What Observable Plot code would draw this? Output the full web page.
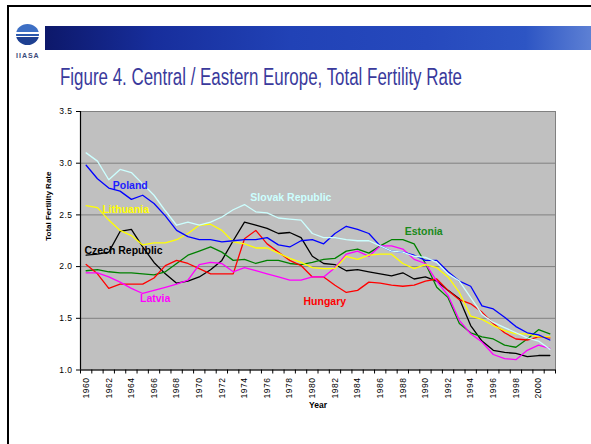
<!DOCTYPE html>
<html>
<head>
<meta charset="utf-8">
<script src="https://cdn.jsdelivr.net/npm/d3@7"></script>
<script src="https://cdn.jsdelivr.net/npm/@observablehq/plot@0.6"></script>
<style>
  html, body { margin: 0; padding: 0; background: #fff; }
  #page { position: relative; width: 591px; height: 444px; overflow: hidden; font-family: "Liberation Sans", Arial, sans-serif; }
  #frame { position: absolute; left: 7px; top: 5px; width: 620px; height: 480px; border-left: 2px solid #000; border-top: 2px solid #000; }
  #banner { position: absolute; left: 45px; top: 26px; width: 546px; height: 24px;
    background: linear-gradient(90deg, #0d186a 0%, #172e9c 20%, #2142b6 45%, #2649bd 70%, #2d55c4 88%, #5d80d4 100%); }
  #logo { position: absolute; left: 16px; top: 24px; width: 23px; height: 21px; border-radius: 50%;
    background: linear-gradient(180deg, #3d6fc4 0 38%, #ffffff 38% 47%, #2a58ad 47% 58%, #ffffff 58% 64%, #1d3f91 64% 100%); }
  #logotext { position: absolute; left: 16px; top: 52px; font-size: 7px; letter-spacing: 1px; color: #3a4a7a; font-weight: bold; }
  #title { position: absolute; left: 60px; top: 66px; font-family: "Liberation Sans", Arial, sans-serif;
    font-size: 23px; line-height: 23px; color: #3a3a9c; white-space: nowrap; transform-origin: 0 0; }
  #chart { position: absolute; left: 0; top: 0; }
  #chart g[aria-label="y-axis tick label"] text, #chart g[aria-label="x-axis tick label"] text { letter-spacing: 0.5px; }
</style>
</head>
<body>
<div id="page">
  <div id="frame"></div>
  <div id="banner"></div>
  <div id="logo"></div>
  <div id="logotext">IIASA</div>
  <div id="chart"></div>
  <div id="title">Figure 4. Central / Eastern Europe, Total Fertility Rate</div>
</div>
<script>
// ---- Data (Total Fertility Rate, 1960–2001) ----
const years = d3.range(1960, 2002);
const xTickYears = d3.range(1960, 2001, 2);
const yTicks = [1.0, 1.5, 2.0, 2.5, 3.0, 3.5];

const countries = ["Czech Republic", "Estonia", "Hungary", "Latvia", "Lithuania", "Poland", "Slovak Republic"];
const colors    = ["#000000", "#008000", "#ff0000", "#ff00ff", "#ffff00", "#0000ff", "#ccffff"];

const czech = [2.11,2.12,2.14,2.34,2.36,2.19,2.04,1.93,1.84,1.86,
               1.90,1.97,2.06,2.25,2.43,2.40,2.37,2.32,2.33,2.28,
               2.10,2.03,2.02,1.96,1.97,1.95,1.93,1.91,1.94,1.88,
               1.90,1.86,1.77,1.69,1.43,1.28,1.19,1.17,1.16,1.13,
               1.14,1.14];
const estonia = [1.96,1.97,1.95,1.94,1.94,1.93,1.92,1.95,2.03,2.11,
                 2.15,2.19,2.14,2.06,2.07,2.03,2.06,2.06,2.03,2.02,
                 2.04,2.07,2.08,2.15,2.17,2.13,2.20,2.26,2.26,2.22,
                 2.03,1.80,1.70,1.45,1.36,1.32,1.30,1.24,1.22,1.30,
                 1.39,1.35];
const hungary = [2.02,1.93,1.79,1.83,1.83,1.83,1.89,2.01,2.06,2.03,
                 1.98,1.93,1.93,1.93,2.27,2.35,2.22,2.14,2.06,2.01,
                 1.90,1.90,1.82,1.75,1.77,1.85,1.84,1.82,1.81,1.82,
                 1.86,1.88,1.77,1.68,1.64,1.56,1.45,1.36,1.30,1.29,
                 1.32,1.31];
const latvia = [1.94,1.94,1.90,1.85,1.79,1.74,1.77,1.80,1.83,1.87,
                2.02,2.04,2.03,1.95,1.99,1.96,1.93,1.90,1.87,1.87,
                1.90,1.90,1.99,2.12,2.15,2.10,2.20,2.20,2.17,2.07,
                2.03,1.86,1.72,1.48,1.35,1.27,1.15,1.11,1.10,1.19,
                1.24,1.21];
const lithuania = [2.59,2.57,2.45,2.35,2.30,2.21,2.23,2.23,2.26,2.32,
                   2.40,2.41,2.35,2.24,2.22,2.18,2.18,2.13,2.08,2.04,
                   1.99,1.98,1.98,2.10,2.07,2.11,2.12,2.12,2.03,1.98,
                   2.02,1.99,1.90,1.75,1.52,1.49,1.43,1.38,1.35,1.35,
                   1.32,1.32];
const poland = [2.98,2.85,2.76,2.73,2.65,2.69,2.61,2.49,2.35,2.29,
                2.26,2.26,2.24,2.25,2.26,2.26,2.28,2.21,2.19,2.25,
                2.26,2.22,2.32,2.39,2.36,2.32,2.20,2.15,2.14,2.11,
                2.06,2.06,1.95,1.86,1.81,1.62,1.59,1.51,1.42,1.36,
                1.34,1.29];
const slovak = [3.10,3.02,2.84,2.94,2.91,2.80,2.69,2.54,2.40,2.43,
                2.40,2.43,2.48,2.55,2.60,2.53,2.52,2.47,2.46,2.45,
                2.32,2.28,2.28,2.26,2.25,2.25,2.20,2.15,2.14,2.10,
                2.09,2.04,1.93,1.86,1.70,1.54,1.46,1.41,1.36,1.31,
                1.28,1.20];

// Series-name annotations (anchor in data units)
const labelNames  = ["Poland", "Lithuania", "Czech Republic", "Slovak Republic", "Estonia", "Hungary", "Latvia"];
const labelYears  = [1963.9, 1963.5, 1963.3, 1978.1, 1989.85, 1981.1, 1966.1];
const labelValues = [2.78, 2.55, 2.15, 2.67, 2.34, 1.66, 1.69];
const labelColors = ["#2020ff", "#ffff00", "#000000", "#ccffff", "#1a8a1a", "#ff0000", "#ff00ff"];

// ---- Build tidy tables ----
const seriesValues = [czech, estonia, hungary, latvia, lithuania, poland, slovak];
const rows = countries.flatMap((c, k) => years.map((yr, i) => ({country: c, year: yr, value: seriesValues[k][i]})));
const labels = labelNames.map((n, i) => ({name: n, x: labelYears[i], y: labelValues[i], color: labelColors[i]}));

const chart = Plot.plot({
  width: 591,
  height: 420,
  marginTop: 111,
  marginLeft: 80,
  marginRight: 36,
  marginBottom: 50.5,
  x: {domain: [1959.5, 2001.5]},
  y: {domain: [1, 3.5]},
  color: {domain: countries, range: colors},
  style: {background: "transparent", fontFamily: "'Liberation Sans', Arial, sans-serif", color: "#000", overflow: "visible"},
  marks: [
    Plot.frame({fill: "#c0c0c0", stroke: "#808080"}),
    Plot.ruleY(yTicks.slice(1), {stroke: "#808080", strokeWidth: 1}),
    Plot.line(rows, {x: "year", y: "value", z: "country", stroke: "country", strokeWidth: 1.3}),
    Plot.ruleX([1959.5], {stroke: "#000", strokeWidth: 1.2}),
    Plot.ruleY([1], {stroke: "#000", strokeWidth: 1.2}),
    Plot.axisY({ticks: yTicks, tickFormat: d3.format(".1f"), tickSize: 4, tickPadding: 4, fontSize: 8.5, label: null}),
    Plot.axisX({ticks: d3.range(1959.5, 2002, 1), tickSize: 4, tickFormat: () => "", label: null}),
    Plot.axisX({ticks: xTickYears, tickFormat: d => String(d), tickSize: 0, tickPadding: 7.5, tickRotate: -90, fontSize: 8.5, label: null}),
    Plot.text(labels, {x: "x", y: "y", text: "name", fill: "color", fontWeight: "bold", fontSize: 10.5}),
    Plot.text(["Year"], {frameAnchor: "bottom", dy: 37.5, text: d => d, fontWeight: "bold", fontSize: 8.5}),
    Plot.text(["Total Fertility Rate"], {frameAnchor: "left", dx: -32, rotate: -90, text: d => d, fontWeight: "bold", fontSize: 8})
  ]
});
document.getElementById("chart").appendChild(chart);

// Fit title to its width in the reference
const title = document.getElementById("title");
const w = title.getBoundingClientRect().width;
title.style.transform = `scaleX(${402 / w})`;
</script>
</body>
</html>
